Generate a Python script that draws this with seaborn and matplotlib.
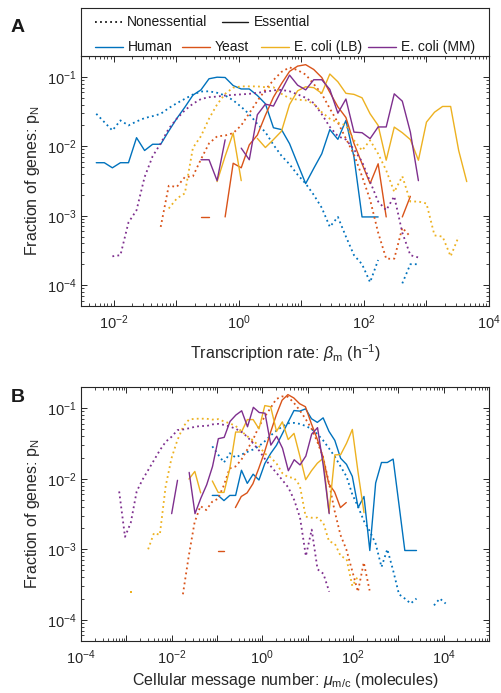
import numpy as np
import pandas as pd
import matplotlib
matplotlib.use("Agg")
import matplotlib.pyplot as plt
from matplotlib.ticker import FixedLocator, LogLocator, FuncFormatter, NullFormatter
import seaborn as sns

# log10 width of one histogram bin (same in both panels)
BIN_STEP = 0.1287

# ---------------- Panel A: transcription rate (h^-1) ----------------
RATE_BIN0 = -2.276  # log10 of the first bin centre

human_ess_rate_bin = 0
human_ess_rate = [0.0058, 0.0058, 0.0049, 0.0058, 0.0058, 0.0133, 0.0087, 0.0107, 0.0107,
                  0.0166, 0.0252, 0.0366, 0.0546, 0.065, 0.094, 0.099, 0.098, 0.075, 0.067,
                  0.067, 0.054, 0.041, 0.0185, 0.0174, 0.0109, 0.0056, 0.0029, 0.0048, 0.0078,
                  0.0174, 0.0126, 0.0236, 0.007, 0.00096, 0.00096, 0.00096]
human_non_rate_bin = 0
human_non_rate = [0.0294, 0.0223, 0.0169, 0.0236, 0.020, 0.0228, 0.0255, 0.0272, 0.0294,
                  0.0355, 0.0418, 0.0483, 0.0557, 0.0616, 0.062, 0.059, 0.054, 0.046, 0.037,
                  0.029, 0.021, 0.016, 0.0105, 0.0073, 0.0055, 0.0039, 0.0029, 0.002, 0.0013,
                  0.00069, 0.00096, 0.0005, 0.00027, 0.0002, 0.00011, 0.00023, None, None,
                  0.000106, 0.0002, 0.0002]
yeast_ess_rate_bin = 13
yeast_ess_rate = [0.00096, 0.00096, None, 0.00096, 0.0057, 0.0049, 0.0105, 0.0145, 0.028,
                  0.051, 0.08, 0.12, 0.143, 0.15, 0.128, 0.098, 0.06, 0.037, 0.026, 0.011,
                  0.0056, 0.0029, 0.0056, 0.00096, None, 0.00096, 0.0019]
yeast_non_rate_bin = 8
yeast_non_rate = [0.00069, 0.0027, 0.0026, 0.0036, 0.0037, 0.0065, 0.011, 0.0139, 0.0143,
                  0.0155, 0.020, 0.030, 0.045, 0.065, 0.09, 0.118, 0.137, 0.125, 0.108, 0.079,
                  0.057, 0.035, 0.022, 0.0129, 0.0076, 0.0037, 0.0017, 0.00057, 0.00024,
                  0.00024, 0.00067, 0.0005]
lb_ess_rate_bin = 15
lb_ess_rate = [0.0031, 0.0072, 0.0155, 0.0032, None, 0.013, 0.0096, 0.0125, 0.0165, 0.040,
               0.063, 0.072, 0.07, 0.058, 0.11, 0.085, 0.058, 0.056, 0.05, 0.0294, 0.02,
               0.0063, 0.0189, 0.0157, 0.0125, 0.0063, 0.0223, 0.031, 0.0375, 0.0375, 0.0087,
               0.0031]
lb_non_rate_bin = 9
lb_non_rate = [0.00127, 0.00177, 0.0021, 0.0095, 0.014, 0.025, 0.040, 0.057, 0.070, 0.073,
               0.073, 0.073, 0.071, 0.071, 0.057, 0.049, 0.047, 0.046, 0.041, 0.031, 0.025,
               0.022, 0.020, 0.0122, 0.0087, 0.0122, 0.0078, 0.0045, 0.0022, 0.0037, 0.0016,
               0.0016, 0.0015, 0.00052, 0.0005, 0.00026, 0.0005]
mm_ess_rate_bin = 13
mm_ess_rate = [0.0064, 0.0064, 0.0032, 0.0124, None, 0.0094, 0.0064, 0.0285, 0.0405, 0.038,
               0.064, 0.106, 0.076, 0.065, 0.091, 0.091, 0.066, 0.030, 0.048, 0.016, 0.0157,
               0.0129, 0.019, 0.019, 0.057, 0.0447, 0.016, 0.0032]
mm_non_rate_bin = 2
mm_non_rate = [0.00026, 0.00027, 0.0008, 0.0012, 0.0036, 0.0072, 0.011, 0.018, 0.025, 0.033,
               0.041, 0.048, 0.051, 0.052, 0.054, 0.055, 0.056, 0.057, 0.059, 0.061, 0.064,
               0.065, 0.062, 0.056, 0.05, 0.042, 0.029, 0.019, 0.014, 0.0125, 0.009, 0.006,
               0.0031, 0.0016, 0.0012, 0.0019, 0.00057, 0.00027, 0.00025]

# ---------------- Panel B: cellular message number ----------------
# log10 of the first bin centre of each series
human_ess_msg_start = -1.104
human_ess_msg = [0.0058, 0.0058, 0.0049, 0.0058, 0.0058, 0.0132, 0.0086, 0.0116, 0.0096,
                 0.0164, 0.0228, 0.0298, 0.0434, 0.0635, 0.0927, 0.091, 0.098, 0.071, 0.063,
                 0.073, 0.047, 0.035, 0.0195, 0.016, 0.0108, 0.0039, 0.0056, 0.00096, 0.0087,
                 0.017, 0.017, 0.019, 0.0043, 0.00096, 0.00096, 0.00096]
human_non_msg_start = -1.104
human_non_msg = [0.0288, 0.022, 0.017, 0.023, 0.020, 0.022, 0.024, 0.026, 0.029, 0.034, 0.041,
                 0.048, 0.055, 0.061, 0.062, 0.06, 0.056, 0.051, 0.043, 0.035, 0.027, 0.0206,
                 0.0149, 0.0108, 0.006, 0.004, 0.0025, 0.0018, 0.0012, 0.00056, 0.001, 0.0005,
                 0.00023, 0.0002, 0.00017, 0.0002, None, None, 0.00016, 0.0002, 0.00017]
yeast_ess_msg_start = -0.98
yeast_ess_msg = [0.00096, 0.00096, None, 0.0039, 0.0056, 0.0063, 0.0085, 0.014, 0.024, 0.045,
                 0.08, 0.13, 0.156, 0.14, 0.116, 0.105, 0.061, 0.037, 0.0206, 0.0085, 0.0065,
                 0.0039, 0.0046]
yeast_non_msg_start = -1.752
yeast_non_msg = [0.00023, 0.0008, 0.0024, 0.0041, 0.0036, 0.0047, 0.0052, 0.008, 0.014,
                 0.0149, 0.0185, 0.0257, 0.0355, 0.0546, 0.0755, 0.1, 0.135, 0.147, 0.145,
                 0.12, 0.094, 0.071, 0.052, 0.034, 0.0206, 0.009, 0.0035, 0.0016, 0.001,
                 0.0005, 0.00025, 0.00065, 0.00026]
lb_ess_msg_start = -1.618
lb_ess_msg = [0.0099, 0.0127, 0.0063, None, 0.0093, 0.0064, 0.0064, 0.014, 0.046, 0.046,
              0.069, 0.069, 0.051, 0.109, 0.105, 0.047, 0.064, 0.036, 0.044, 0.021, 0.0097,
              0.013, 0.0166, 0.0195, 0.0033, 0.0218, 0.022, 0.0318, 0.050, 0.012, 0.0033]
lb_non_msg_start = -2.905
lb_non_msg = [0.00025, None, None, 0.001, 0.0017, 0.0016, 0.0078, 0.0195, 0.035, 0.0546,
              0.069, 0.071, 0.071, 0.071, 0.069, 0.07, 0.065, 0.061, 0.056, 0.047, 0.04,
              0.035, 0.029, 0.0228, 0.02, 0.0165, 0.012, 0.0105, 0.0103, 0.008, 0.0029,
              0.0028, 0.0028, 0.0024, 0.0013, 0.0012, 0.0008, 0.00073, 0.0003, 0.00042]
mm_ess_msg_start = -2.0
mm_ess_msg = [0.0032, 0.0095, None, 0.0123, 0.0032, 0.0053, 0.0082, 0.0149, 0.037, 0.0386,
              0.065, 0.08, 0.092, 0.0546, 0.103, 0.087, 0.085, 0.03, 0.04, 0.027, 0.013,
              0.0186, 0.0157, 0.021, 0.043, 0.053, 0.015, 0.0032]
mm_non_msg_start = -3.158
mm_non_msg = [0.0066, 0.0015, 0.0024, 0.0066, 0.0097, 0.0134, 0.0185, 0.0256, 0.0336, 0.0395,
              0.049, 0.050, 0.052, 0.0546, 0.056, 0.056, 0.059, 0.06, 0.058, 0.055, 0.051,
              0.046, 0.039, 0.0315, 0.025, 0.019, 0.015, 0.012, 0.0095, 0.0075, 0.005,
              0.0028, 0.0008, 0.0019, 0.00052, 0.00045, 0.00025]

organisms = ["Human", "Yeast", "E. coli (LB)", "E. coli (MM)"]
colors = ["#0072BD", "#D95319", "#EDB120", "#7E2F8E"]

# ---------------- style ----------------
sns.set_theme(style="ticks")
plt.rcParams.update({
    "font.family": ["Liberation Sans", "DejaVu Sans"],
    "mathtext.fontset": "custom",
    "mathtext.rm": "Liberation Sans",
    "mathtext.it": "Liberation Sans:italic",
    "mathtext.bf": "Liberation Sans:bold",
    "axes.unicode_minus": False,
    "axes.linewidth": 0.8,
    "axes.edgecolor": "#262626",
    "xtick.color": "#262626",
    "ytick.color": "#262626",
    "text.color": "#1a1a1a",
})

DOTTED = (0, (1, 1.8))
SOLID_LW = 1.0
DOT_LW = 1.3


def to_frame(log_start, values):
    rows, seg, open_seg = [], 0, False
    for i, v in enumerate(values):
        if v is None:
            if open_seg:
                seg += 1
            open_seg = False
            continue
        rows.append((10 ** (log_start + i * BIN_STEP), v, seg))
        open_seg = True
    return pd.DataFrame(rows, columns=["x", "y", "seg"])


def draw(ax, log_start, values, color, dotted):
    df = to_frame(log_start, values)
    size = df.groupby("seg")["y"].transform("size")
    runs, lone = df[size > 1], df[size == 1]
    if len(runs):
        sns.lineplot(data=runs, x="x", y="y", units="seg", estimator=None, sort=False,
                     color=color, linewidth=DOT_LW if dotted else SOLID_LW,
                     linestyle=DOTTED if dotted else "-", ax=ax, legend=False)
    if len(lone):
        sns.scatterplot(data=lone, x="x", y="y", color=color, marker="s", s=3,
                        linewidth=0, ax=ax, legend=False)


def decade_formatter(every):
    def fmt(v, pos):
        e = int(round(np.log10(v)))
        if e % every:
            return ""
        return r"$\mathregular{10^{%d}}$" % e
    return FuncFormatter(fmt)


def style_axes(ax, xlim, xdecades, xlabel):
    ax.set_xscale("log")
    ax.set_yscale("log")
    ax.set_xlim(*xlim)
    ax.set_ylim(5e-5, 0.2)
    ax.xaxis.set_major_locator(FixedLocator([10.0 ** e for e in xdecades]))
    ax.xaxis.set_minor_locator(LogLocator(base=10, subs=np.arange(2, 10), numticks=30))
    ax.yaxis.set_major_locator(FixedLocator([1e-4, 1e-3, 1e-2, 1e-1]))
    ax.yaxis.set_minor_locator(LogLocator(base=10, subs=np.arange(2, 10), numticks=30))
    ax.xaxis.set_major_formatter(decade_formatter(2))
    ax.xaxis.set_minor_formatter(NullFormatter())
    ax.yaxis.set_major_formatter(decade_formatter(1))
    ax.yaxis.set_minor_formatter(NullFormatter())
    ax.tick_params(which="both", direction="in", top=True, right=True, labelsize=10.5)
    ax.tick_params(which="major", length=4, width=0.7)
    ax.tick_params(which="minor", length=2, width=0.6)
    ax.tick_params(axis="x", which="major", pad=5)
    ax.tick_params(axis="y", which="major", pad=3)
    for s in ax.spines.values():
        s.set_visible(True)
    ax.set_xlabel(xlabel, fontsize=11.5)
    ax.set_ylabel(r"Fraction of genes: p$_\mathregular{N}$", fontsize=11.5)
    ax.yaxis.set_label_coords(-0.095, 0.5)


W, H = 501, 693
fig = plt.figure(figsize=(W / 100, H / 100), dpi=100)
axA = fig.add_axes([81 / W, 1 - 306 / H, 408 / W, 250 / H])
axB = fig.add_axes([81 / W, 1 - 641 / H, 408 / W, 254 / H])
for ax in (axA, axB):
    ax.set_xscale("log")
    ax.set_yscale("log")

rate_series = [
    (human_non_rate_bin, human_non_rate, human_ess_rate_bin, human_ess_rate),
    (yeast_non_rate_bin, yeast_non_rate, yeast_ess_rate_bin, yeast_ess_rate),
    (lb_non_rate_bin, lb_non_rate, lb_ess_rate_bin, lb_ess_rate),
    (mm_non_rate_bin, mm_non_rate, mm_ess_rate_bin, mm_ess_rate),
]
for (nb, nv, eb, ev), c in zip(rate_series, colors):
    draw(axA, RATE_BIN0 + nb * BIN_STEP, nv, c, True)
    draw(axA, RATE_BIN0 + eb * BIN_STEP, ev, c, False)

msg_series = [
    (human_non_msg_start, human_non_msg, human_ess_msg_start, human_ess_msg),
    (yeast_non_msg_start, yeast_non_msg, yeast_ess_msg_start, yeast_ess_msg),
    (lb_non_msg_start, lb_non_msg, lb_ess_msg_start, lb_ess_msg),
    (mm_non_msg_start, mm_non_msg, mm_ess_msg_start, mm_ess_msg),
]
for (ns, nv, es, ev), c in zip(msg_series, colors):
    draw(axB, ns, nv, c, True)
    draw(axB, es, ev, c, False)

style_axes(axA, (10 ** -2.52, 1e4), range(-2, 5),
           r"Transcription rate: $\beta_\mathregular{m}$ (h$^\mathregular{-1}$)")
axA.xaxis.set_label_coords(0.5, -0.145)
style_axes(axB, (1e-4, 1e5), range(-4, 6),
           r"Cellular message number: $\mu_\mathregular{m/c}$ (molecules)")
axB.xaxis.set_label_coords(0.5, -0.118)

# legend box above panel A, drawn in pixel units
leg = fig.add_axes([81 / W, 1 - 56 / H, 408 / W, 48 / H])
leg.set_xlim(0, 408)
leg.set_ylim(48, 0)
leg.set_xticks([])
leg.set_yticks([])
for s in leg.spines.values():
    s.set_visible(True)
    s.set_linewidth(0.8)
    s.set_color("#262626")
leg_fs = 10
leg.plot([14, 41], [14, 14], color="k", lw=DOT_LW, linestyle=DOTTED)
leg.text(46, 14, "Nonessential", va="center", ha="left", fontsize=leg_fs)
leg.plot([141, 167], [14, 14], color="k", lw=SOLID_LW)
leg.text(173, 14, "Essential", va="center", ha="left", fontsize=leg_fs)
for x0, name, c in zip([14, 101, 180, 287], organisms, colors):
    leg.plot([x0, x0 + 28], [39, 39], color=c, lw=SOLID_LW)
    leg.text(x0 + 33, 39, name, va="center", ha="left", fontsize=leg_fs)

fig.text(18 / W, 1 - 27 / H, "A", fontsize=14, fontweight="bold", ha="center", va="center")
fig.text(18 / W, 1 - 398 / H, "B", fontsize=14, fontweight="bold", ha="center", va="center")

fig.savefig("out.png", dpi=100)
